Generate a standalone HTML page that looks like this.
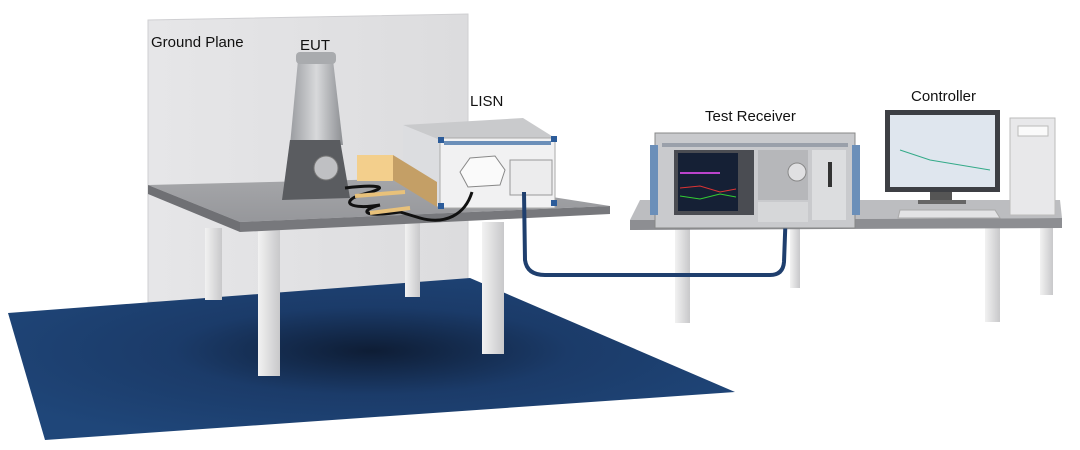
<!DOCTYPE html>
<html><head><meta charset="utf-8"><style>
html,body{margin:0;padding:0;background:#fff;width:1080px;height:450px;overflow:hidden}
svg text{font-family:"Liberation Sans",sans-serif;font-size:15px;fill:#111}
</style></head><body>
<svg width="1080" height="450" viewBox="0 0 1080 450" xmlns="http://www.w3.org/2000/svg">
<defs>
<radialGradient id="fl" cx="0.5" cy="0.45" r="0.6">
<stop offset="0" stop-color="#0e1d35"/><stop offset="0.45" stop-color="#1b3b69"/><stop offset="1" stop-color="#1f4679"/></radialGradient>
<linearGradient id="gp" x1="0" x2="1"><stop offset="0" stop-color="#e6e6e8"/><stop offset="1" stop-color="#dcdcde"/></linearGradient>
<linearGradient id="top" x1="0" x2="0" y1="0" y2="1"><stop offset="0" stop-color="#a5a6a9"/><stop offset="1" stop-color="#96979b"/></linearGradient>
<linearGradient id="leg" x1="0" x2="1"><stop offset="0" stop-color="#f2f2f2"/><stop offset="1" stop-color="#c8c8ca"/></linearGradient>
<linearGradient id="eut" x1="0" x2="1"><stop offset="0" stop-color="#9a9ca0"/><stop offset="0.5" stop-color="#d8d9db"/><stop offset="1" stop-color="#8d8f93"/></linearGradient>
</defs>
<polygon points="148,20 468,14 468,300 148,302" fill="url(#gp)" stroke="#cfcfd2"/>
<text x="151" y="47">Ground Plane</text>
<polygon points="8,313 470,278 735,392 45,440" fill="url(#fl)"/>
<rect x="205" y="228" width="17" height="72" fill="url(#leg)"/>
<rect x="258" y="228" width="22" height="148" fill="url(#leg)"/>
<rect x="405" y="222" width="15" height="75" fill="url(#leg)"/>
<rect x="482" y="222" width="22" height="132" fill="url(#leg)"/>
<polygon points="148,185 430,178 610,206 240,222" fill="url(#top)"/>
<polygon points="148,185 240,222 240,232 148,194" fill="#6f7074"/>
<polygon points="240,222 610,206 610,214 240,232" fill="#77787c"/>
<rect x="675" y="228" width="15" height="95" fill="url(#leg)"/>
<rect x="985" y="228" width="15" height="94" fill="url(#leg)"/>
<rect x="1040" y="225" width="13" height="70" fill="url(#leg)"/>
<rect x="790" y="228" width="10" height="60" fill="url(#leg)"/>
<polygon points="640,200 1060,200 1062,218 630,220" fill="#bcbdc0"/>
<polygon points="630,220 1062,218 1062,228 630,230" fill="#8d8e92"/>
<!-- EUT -->
<polygon points="298,60 333,60 343,145 290,145" fill="url(#eut)"/>
<rect x="296" y="52" width="40" height="12" rx="4" fill="#a9abae"/>
<polygon points="290,140 340,140 350,198 282,200" fill="#5a5c60"/>
<circle cx="326" cy="168" r="12" fill="#bfc0c3" stroke="#777"/>
<!-- LISN -->
<polygon points="403,125 523,118 555,138 440,140" fill="#c9cacc"/>
<polygon points="403,125 440,140 440,208 403,185" fill="#dcdde0"/>
<rect x="440" y="138" width="115" height="70" fill="#f1f1f2" stroke="#aaa"/>
<rect x="444" y="141" width="107" height="4" fill="#6b8fb9"/>
<polygon points="470,158 495,156 505,170 500,185 468,187 460,172" fill="#fafafa" stroke="#888"/>
<rect x="510" y="160" width="42" height="35" fill="#ececed" stroke="#999"/>
<rect x="438" y="137" width="6" height="6" fill="#2c5c9a"/><rect x="551" y="136" width="6" height="6" fill="#2c5c9a"/>
<rect x="438" y="203" width="6" height="6" fill="#2c5c9a"/><rect x="551" y="200" width="6" height="6" fill="#2c5c9a"/>
<!-- wood (in front of LISN) -->
<polygon points="357,155 393,155 393,181 357,181" fill="#f3cf8c"/>
<polygon points="393,155 437,182 437,207 393,180" fill="#c49f66"/>
<!-- cable EUT-LISN -->
<path d="M345,188 C370,185 400,185 360,195 C340,202 350,210 380,205 C360,210 360,218 400,212 L420,218 C445,225 465,215 472,192" stroke="#111" stroke-width="3" fill="none"/>
<path d="M355,196 L405,192 M370,213 L410,208" stroke="#e8c17a" stroke-width="4"/>
<!-- blue cable -->
<path d="M524,192 L525,260 Q527,275 545,275 L770,275 Q783,275 784,262 L786,208" stroke="#1f3f6e" stroke-width="4" fill="none"/>
<!-- Test receiver -->
<rect x="655" y="133" width="200" height="95" fill="#c9cacd" stroke="#888"/>
<rect x="650" y="145" width="8" height="70" fill="#6b8fb9"/>
<rect x="852" y="145" width="8" height="70" fill="#6b8fb9"/>
<rect x="662" y="143" width="186" height="4" fill="#9aa0aa"/>
<rect x="674" y="150" width="80" height="65" fill="#4a4c52"/>
<rect x="678" y="153" width="60" height="58" fill="#152035"/>
<path d="M680,188 L700,186 L720,192 L736,189" stroke="#d33" fill="none"/>
<path d="M680,196 L700,199 L720,194 L736,197" stroke="#3c3" fill="none"/>
<rect x="680" y="172" width="40" height="2" fill="#b4c"/>
<rect x="758" y="150" width="50" height="50" fill="#b6b7ba"/>
<circle cx="797" cy="172" r="9" fill="#e0e0e2" stroke="#888"/>
<rect x="758" y="202" width="50" height="20" fill="#d6d7d9"/>
<rect x="812" y="150" width="34" height="70" fill="#dcdddf"/>
<rect x="828" y="162" width="4" height="25" fill="#333"/>
<!-- controller -->
<rect x="885" y="110" width="115" height="82" fill="#3d3f44"/>
<rect x="890" y="115" width="105" height="72" fill="#dfe6ee"/>
<path d="M900,150 L930,160 L960,165 L990,170" stroke="#3a8" fill="none"/>
<rect x="930" y="192" width="22" height="10" fill="#555"/>
<rect x="918" y="200" width="48" height="4" fill="#666"/>
<polygon points="900,210 995,210 1000,218 898,218" fill="#e3e3e5" stroke="#aaa"/>
<rect x="1010" y="118" width="45" height="97" fill="#e8e8ea" stroke="#bbb"/>
<rect x="1018" y="126" width="30" height="10" fill="#fafafa" stroke="#bbb"/>
<text x="300" y="50">EUT</text>
<text x="470" y="106">LISN</text>
<text x="705" y="121">Test Receiver</text>
<text x="911" y="101">Controller</text>
</svg>
</body></html>
